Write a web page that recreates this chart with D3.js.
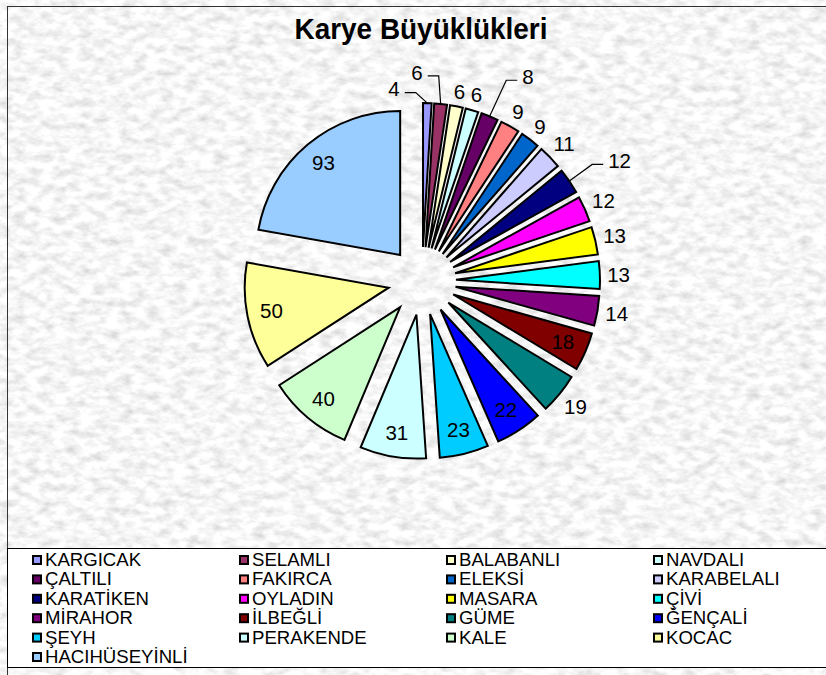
<!DOCTYPE html>
<html>
<head>
<meta charset="utf-8">
<script src="https://cdn.jsdelivr.net/npm/d3@7"></script>
<style>
  body { margin: 0; background: #fff; }
  text { font-family: "Liberation Sans", Arial, sans-serif; fill: #000; }
</style>
</head>
<body>
<svg id="chart" width="826" height="675"></svg>
<script>
// village names, in the order excel drew them (clockwise from 12 o'clock)
var villages = ["KARGICAK", "SELAMLI", "BALABANLI", "NAVDALI", "ÇALTILI", "FAKIRCA", "ELEKSİ",
  "KARABELALI", "KARATİKEN", "OYLADIN", "MASARA", "ÇİVİ", "MİRAHOR", "İLBEĞLİ", "GÜME",
  "ĞENÇALİ", "ŞEYH", "PERAKENDE", "KALE", "KOCAC", "HACIHÜSEYİNLİ"];
var sizes = [4, 6, 6, 6, 8, 9, 9, 11, 12, 12, 13, 13, 14, 18, 19, 22, 23, 31, 40, 50, 93];
var colours = ["#9999FF", "#993366", "#FFFFCC", "#CCFFFF", "#660066", "#FF8080", "#0066CC",
  "#CCCCFF", "#000080", "#FF00FF", "#FFFF00", "#00FFFF", "#800080", "#800000", "#008080",
  "#0000FF", "#00CCFF", "#CCFFFF", "#CCFFCC", "#FFFF99", "#99CCFF"];

// labels that sit inside their slice (excel "best fit")
var insideLabels = ["İLBEĞLİ", "ĞENÇALİ", "ŞEYH", "PERAKENDE", "KALE", "KOCAC", "HACIHÜSEYİNLİ"];
// labels excel pushed away and joined with a leader: [angle deg, distance / radius]
var leaderLabels = {"KARGICAK": [-10.4, 1.115], "SELAMLI": [-2.8, 1.215],
  "ÇALTILI": [28.3, 1.363], "KARATİKEN": [59.2, 1.37]};

var W = 826, H = 675;
var cx = 422, cy = 281, radius = 144, explode = 34;

var svg = d3.select("#chart");
var defs = svg.append("defs");

// granite-ish background texture
var filt = defs.append("filter").attr("id", "granite")
  .attr("filterUnits", "userSpaceOnUse")
  .attr("x", 0).attr("y", 0).attr("width", W).attr("height", H);
filt.append("feTurbulence").attr("type", "fractalNoise")
  .attr("baseFrequency", "0.075 0.13").attr("numOctaves", 4).attr("seed", 7);
filt.append("feColorMatrix").attr("type", "matrix")
  .attr("values", "0.6 0 0 0 0.62  0.6 0 0 0 0.62  0.6 0 0 0 0.62  0 0 0 0 1");

svg.append("rect").attr("width", W).attr("height", H).attr("fill", "#fff");
svg.append("rect").attr("x", 7).attr("y", 6).attr("width", W).attr("height", H)
  .attr("filter", "url(#granite)");
svg.append("rect").attr("x", 7.5).attr("y", 6.5).attr("width", W).attr("height", H)
  .attr("fill", "none").attr("stroke", "#333").attr("stroke-width", 1);

// title
svg.append("text")
  .attr("x", 421).attr("y", 39)
  .attr("text-anchor", "middle")
  .attr("font-size", 30).attr("font-weight", "bold")
  .attr("textLength", 253).attr("lengthAdjust", "spacingAndGlyphs")
  .text("Karye Büyüklükleri");

//pie layout
var data = villages.map(function(v, i) { return {name: v, value: sizes[i], colour: colours[i]}; });
var pie = d3.pie().sort(null).value(function(d) { return d.value; })
  .startAngle(0).endAngle(2 * Math.PI);
var arcs = pie(data);
var arc = d3.arc().innerRadius(0).outerRadius(radius);

function dir(a) { return [Math.sin(a), -Math.cos(a)]; }
function mid(d) { return (d.startAngle + d.endAngle) / 2; }
// exploded slice apex
function apex(d) {
  var u = dir(mid(d));
  return [cx + u[0] * explode, cy + u[1] * explode];
}

var g = svg.append("g");
g.selectAll("path.slice").data(arcs).enter().append("path")
  .attr("class", "slice")
  .attr("transform", function(d) { var p = apex(d); return "translate(" + p[0] + "," + p[1] + ")"; })
  .attr("d", arc)
  .attr("fill", function(d) { return d.data.colour; })
  .attr("stroke", "#000").attr("stroke-width", 2).attr("stroke-linejoin", "miter");

// data labels
var labels = svg.append("g").attr("font-size", 20.5);
arcs.forEach(function(d) {
  var p = apex(d), a = mid(d), u = dir(a);
  var t = labels.append("text").attr("text-anchor", "middle").attr("dy", "0.35em").text(d.data.value);
  var w = t.node().getComputedTextLength(), h = 14.5;
  var x, y;
  if (insideLabels.indexOf(d.data.name) >= 0) {
    x = p[0] + u[0] * radius * 0.83;
    y = p[1] + u[1] * radius * 0.83;
  } else if (leaderLabels[d.data.name]) {
    var L = leaderLabels[d.data.name];
    var la = L[0] * Math.PI / 180, lu = dir(la);
    x = p[0] + lu[0] * radius * L[1];
    y = p[1] + lu[1] * radius * L[1];
    // leader: slice edge -> elbow -> next to the label
    var sx = p[0] + u[0] * radius, sy = p[1] + u[1] * radius;
    var ly = y + 3.5, ex, bx;
    if (x < sx - w) { ex = x + w / 2 + 5; bx = ex + 11; }
    else { ex = x - w / 2 - 5; bx = ex - 11; }
    labels.append("path")
      .attr("d", d3.line()([[sx, sy], [bx, ly], [ex, ly]]))
      .attr("fill", "none").attr("stroke", "#000").attr("stroke-width", 1.2);
  } else {
    var ext = Math.abs(u[0]) * w / 2 + Math.abs(u[1]) * h / 2;
    var dist = radius + 7 + ext;
    x = p[0] + u[0] * dist;
    y = p[1] + u[1] * dist;
  }
  t.attr("x", x).attr("y", y);
});

// legend
var legY = 548;
svg.append("rect").attr("x", 7.5).attr("y", legY + 0.5).attr("width", W).attr("height", 119)
  .attr("fill", "#fff").attr("stroke", "#000").attr("stroke-width", 1);

var colX = d3.scaleLinear().domain([0, 3]).range([32, 653]);
var rowY = d3.scaleLinear().domain([0, 5]).range([566, 663]);

var leg = svg.append("g").attr("font-size", 18.6);
var item = leg.selectAll("g.item").data(data).enter().append("g")
  .attr("class", "item")
  .attr("transform", function(d, i) { return "translate(" + colX(i % 4) + "," + rowY(Math.floor(i / 4)) + ")"; });
item.append("rect")
  .attr("x", 1).attr("y", -10).attr("width", 8).attr("height", 8)
  .attr("fill", function(d) { return d.colour; })
  .attr("stroke", "#000").attr("stroke-width", 2);
item.append("text").attr("x", 13).attr("y", 0).text(function(d) { return d.name; });
</script>
</body>
</html>
